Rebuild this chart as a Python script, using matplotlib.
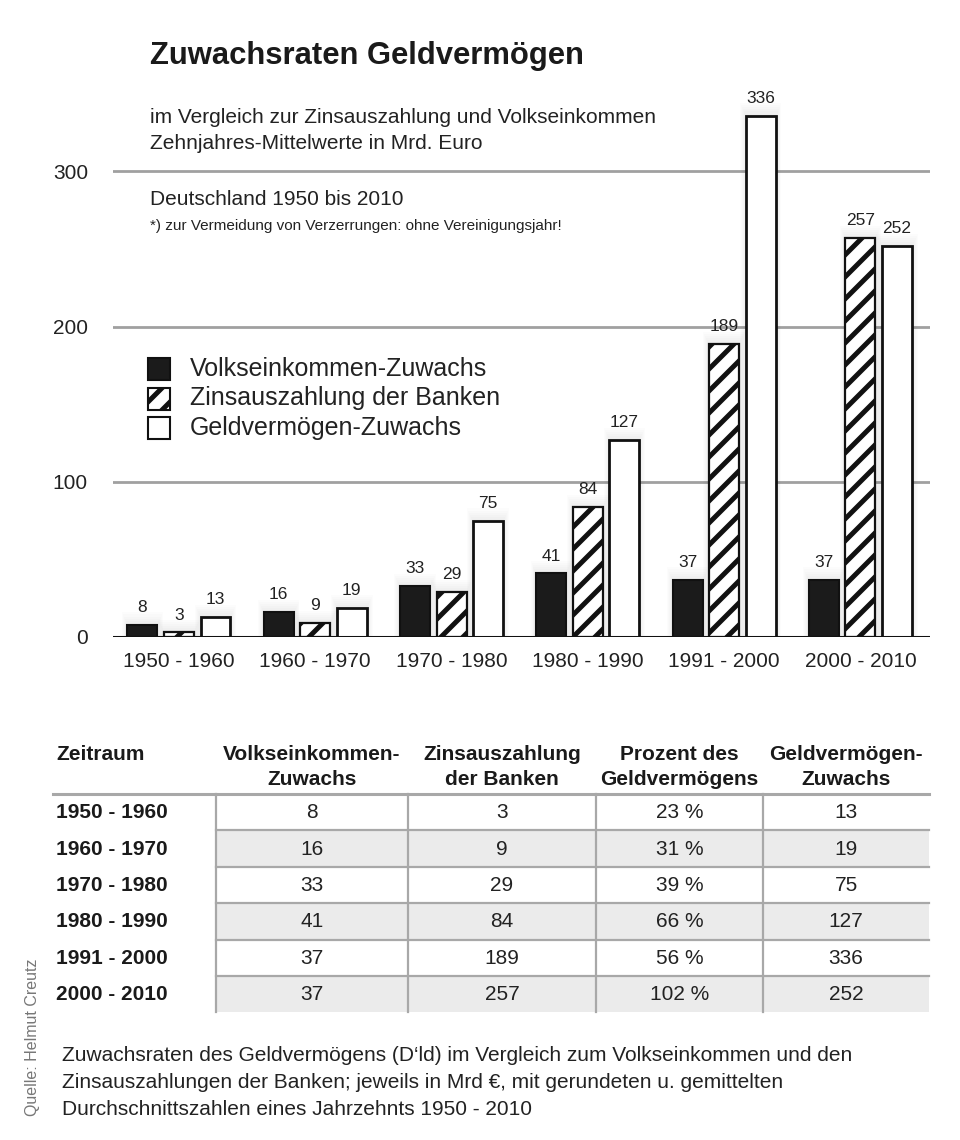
import matplotlib
matplotlib.use("Agg")
import matplotlib.pyplot as plt
from matplotlib.patches import Rectangle
import numpy as np

# render at a higher dpi so the hatch pattern is coarser; all point sizes scaled
DPI = 132
PT = 100.0 / DPI


def s(v):
    return v * PT


plt.rcParams['font.family'] = ['Liberation Sans', 'DejaVu Sans']
plt.rcParams['hatch.linewidth'] = 2.7

# ---------------- data ----------------
periods = ["1950 - 1960", "1960 - 1970", "1970 - 1980", "1980 - 1990", "1991 - 2000", "2000 - 2010"]
volkseinkommen = [8, 16, 33, 41, 37, 37]
zinsauszahlung = [3, 9, 29, 84, 189, 257]
geldvermoegen = [13, 19, 75, 127, 336, 252]
prozent = [23, 31, 39, 66, 56, 102]
series_names = ["Volkseinkommen-Zuwachs", "Zinsauszahlung der Banken", "Geldvermögen-Zuwachs"]
yticks = [0, 100, 200, 300]
title = "Zuwachsraten Geldvermögen"
subtitle = ["im Vergleich zur Zinsauszahlung und Volkseinkommen",
            "Zehnjahres-Mittelwerte in Mrd. Euro"]
region_text = "Deutschland 1950 bis 2010"
footnote = "*) zur Vermeidung von Verzerrungen: ohne Vereinigungsjahr!"
table_header = ["Zeitraum", "Volkseinkommen-\nZuwachs", "Zinsauszahlung\nder Banken",
                "Prozent des\nGeldvermögens", "Geldvermögen-\nZuwachs"]
caption = ["Zuwachsraten des Geldvermögens (D\u2018ld) im Vergleich zum Volkseinkommen und den",
           "Zinsauszahlungen der Banken; jeweils in Mrd \u20ac, mit gerundeten u. gemittelten",
           "Durchschnittszahlen eines Jahrzehnts 1950 - 2010"]
source = "Quelle: Helmut Creutz"

W, H = 960, 1140
fig = plt.figure(figsize=(W / DPI, H / DPI), dpi=DPI)
fig.patch.set_facecolor("white")

# overlay axes in pixel coordinates (for texts, legend, table)
ov = fig.add_axes([0, 0, 1, 1], zorder=0)
ov.set_xlim(0, W)
ov.set_ylim(H, 0)
ov.axis("off")

# ---------------- bar chart ----------------
ax_left, ax_right, ax_top, ax_bot = 113, 930, 80, 637
ax = fig.add_axes([ax_left / W, 1 - ax_bot / H, (ax_right - ax_left) / W, (ax_bot - ax_top) / H], zorder=2)
ax.patch.set_alpha(0)
x = np.arange(len(periods))
off = 0.268
bw = 0.22
ax.set_xlim(-0.484, 5.51)
ax.set_ylim(0, (ax_bot - ax_top) / 1.552)

# soft shadow behind bars
for vals, dx in [(volkseinkommen, -off), (zinsauszahlung, 0), (geldvermoegen, off)]:
    for k in range(1, 7):
        ax.bar(x + dx, np.array(vals) + 1.3 * k, width=bw + 0.014 * k, color="black",
               alpha=0.013, linewidth=0, zorder=1)

b1 = ax.bar(x - off, volkseinkommen, width=bw, color="#1b1b1b", edgecolor="#111111", linewidth=s(1.5), zorder=3)
b2 = ax.bar(x, zinsauszahlung, width=bw, color="white", edgecolor="#111111", hatch="//", linewidth=s(1.6), zorder=3)
b3 = ax.bar(x + off, geldvermoegen, width=bw, color="white", edgecolor="#111111", linewidth=s(2.0), zorder=3)
for bars in (b1, b2, b3):
    ax.bar_label(bars, padding=s(7), fontsize=s(12.5), color="#222222")

for sp in ax.spines.values():
    sp.set_visible(False)
ax.axhline(0, color="#111111", linewidth=s(2.2), zorder=4)
for t in yticks[1:]:
    ax.axhline(t, color="#a0a0a0", linewidth=s(2.0), zorder=0)
ax.set_yticks(yticks)
ax.set_yticklabels([str(t) for t in yticks])
ax.set_xticks(x)
ax.set_xticklabels(periods)
ax.tick_params(axis="y", length=0, pad=s(18), labelsize=s(15), labelcolor="#222222")
ax.tick_params(axis="x", length=0, pad=s(11), labelsize=s(15), labelcolor="#222222")

# ---------------- texts ----------------
ov.text(150, 64, title, fontsize=s(22.3), fontweight="bold", color="#1a1a1a", va="baseline")
ov.text(150, 123, subtitle[0], fontsize=s(15), color="#222222", va="baseline")
ov.text(150, 149, subtitle[1], fontsize=s(15), color="#222222", va="baseline")
ov.text(150, 205, region_text, fontsize=s(15), color="#222222", va="baseline")
ov.text(150, 230, footnote, fontsize=s(11), color="#222222", va="baseline")

# legend
leg_y = [368.5, 398.5, 427.5]
styles = [dict(facecolor="#1b1b1b", edgecolor="#111111"),
          dict(facecolor="white", edgecolor="#111111", hatch="//"),
          dict(facecolor="white", edgecolor="#111111")]
for name, yy, st in zip(series_names, leg_y, styles):
    ov.add_patch(Rectangle((148, yy - 11), 22, 22, linewidth=s(1.5), **st))
    ov.text(190, yy, name, fontsize=s(18), color="#222222", va="center")

# ---------------- table ----------------
col_edges = [53, 216, 408, 596, 763, 929]
row_top = 794
row_h = 36.4
grid_c = "#a8a8a8"
n = len(periods)
for i in range(n):
    y0 = row_top + i * row_h
    if i % 2 == 1:
        ov.add_patch(Rectangle((col_edges[1], y0), col_edges[-1] - col_edges[1], row_h,
                               facecolor="#ebebeb", edgecolor="none", zorder=1))
# horizontal lines
ov.plot([col_edges[0], col_edges[-1]], [row_top, row_top], color=grid_c, linewidth=s(2.2), zorder=3)
for i in range(1, n):
    yy = row_top + i * row_h
    ov.plot([col_edges[1], col_edges[-1]], [yy, yy], color=grid_c, linewidth=s(1.6), zorder=3)
# vertical lines
for xe in col_edges[1:-1]:
    ov.plot([xe, xe], [row_top, row_top + n * row_h], color=grid_c, linewidth=s(1.6), zorder=3)

# header
ov.text(56, 760, table_header[0], fontsize=s(15), fontweight="bold", color="#1a1a1a", va="baseline")
centers = [(col_edges[j] + col_edges[j + 1]) / 2 for j in range(1, 5)]
for j, c in enumerate(centers):
    l1, l2 = table_header[j + 1].split("\n")
    ov.text(c, 760, l1, fontsize=s(15), fontweight="bold", color="#1a1a1a", ha="center", va="baseline")
    ov.text(c, 785, l2, fontsize=s(15), fontweight="bold", color="#1a1a1a", ha="center", va="baseline")

for i in range(n):
    yc = row_top + (i + 0.5) * row_h + 6
    ov.text(56, yc, periods[i], fontsize=s(15), fontweight="bold", color="#1a1a1a", va="baseline", zorder=4)
    vals = [str(volkseinkommen[i]), str(zinsauszahlung[i]), f"{prozent[i]} %", str(geldvermoegen[i])]
    for c, v in zip(centers, vals):
        ov.text(c, yc, v, fontsize=s(15), color="#222222", ha="center", va="baseline", zorder=4)

# caption
for k, line in enumerate(caption):
    ov.text(62, 1061 + k * 27, line, fontsize=s(15), color="#222222", va="baseline")

ov.text(33, 1037, source, fontsize=s(11.5), color="#777777", rotation=90, ha="center", va="center")

fig.savefig("out.png", dpi=DPI, facecolor="white")
